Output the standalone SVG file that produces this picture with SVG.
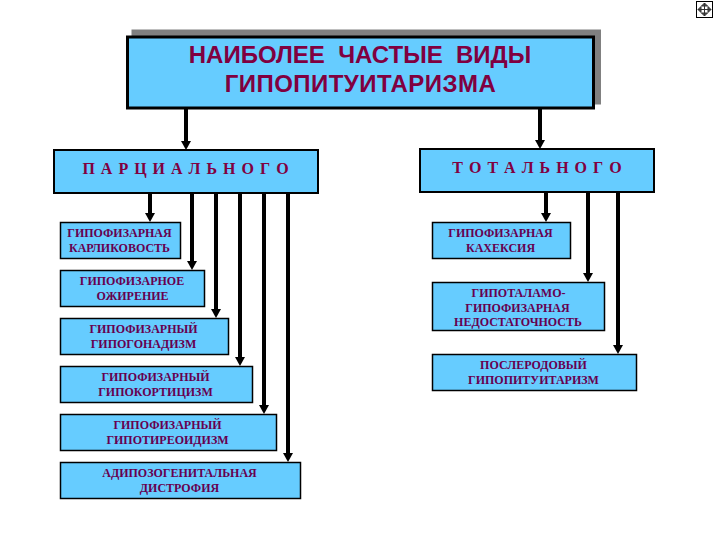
<svg xmlns="http://www.w3.org/2000/svg" width="720" height="540" viewBox="0 0 720 540">
<style>
.box{fill:#66ccff;stroke:#000;stroke-width:1.5}
.mid{fill:#66ccff;stroke:#000;stroke-width:2}
.t{font-family:"Liberation Serif",serif;font-weight:700;font-size:12px;fill:#660050;text-anchor:middle}
.m{font-family:"Liberation Serif",serif;font-weight:700;font-size:16px;letter-spacing:1px;fill:#800040;text-anchor:middle;white-space:pre}
.h{font-family:"Liberation Sans",sans-serif;font-weight:700;font-size:24px;fill:#800040;text-anchor:middle;white-space:pre}
.c{stroke:#000;stroke-width:4;fill:none;marker-end:url(#a)}
</style>
<defs><marker id="a" markerUnits="userSpaceOnUse" markerWidth="9" markerHeight="10" refX="0" refY="5" orient="auto" viewBox="0 0 9 10"><path d="M0 0L9 5L0 10Z" fill="#000"/></marker></defs>
<rect width="720" height="540" fill="#fff"/>
<g id="icon"><rect x="696.500" y="1.500" width="16" height="16" fill="#fff" stroke="#000"/><path d="M704.500 3v13M698 9.500h13M704.500 3l-3 3h6zM704.500 16l-3-3h6zM698 9.500l3-3v6zM711 9.500l-3-3v6z" fill="#555" stroke="#333" stroke-width="1"/></g>
<g id="connectors">
<path class="c" d="M186 108V141"/>
<path class="c" d="M540 108V140"/>
<path class="c" d="M150 193V213"/>
<path class="c" d="M192 193V261"/>
<path class="c" d="M216 193V309"/>
<path class="c" d="M240 193V357"/>
<path class="c" d="M264 193V405"/>
<path class="c" d="M288 193V453"/>
<path class="c" d="M546 192V213"/>
<path class="c" d="M588 192V273"/>
<path class="c" d="M618 192V345"/>
</g>
<g id="title"><rect x="131.500" y="29.500" width="469.500" height="75" fill="#808080"/><rect x="127.500" y="37" width="466" height="71" fill="#66ccff" stroke="#000" stroke-width="3"/>
<text class="h" x="360" y="63">НАИБОЛЕЕ  ЧАСТЫЕ  ВИДЫ</text><text class="h" x="360.500" y="92" style="letter-spacing:.45px">ГИПОПИТУИТАРИЗМА</text></g>
<g id="partial"><rect class="mid" x="54" y="150" width="264" height="43"/><text class="m" x="186" y="174">П А Р Ц И А Л Ь Н О Г О</text></g>
<g id="total"><rect class="mid" x="420" y="149" width="234" height="43"/><text class="m" x="537.500" y="173">Т О Т А Л Ь Н О Г О</text></g>
<g id="n1"><rect class="box" x="60.500" y="222.500" width="120" height="36"/><text class="t" x="119.500" y="237">ГИПОФИЗАРНАЯ</text><text class="t" x="119.500" y="252">КАРЛИКОВОСТЬ</text></g>
<g id="n2"><rect class="box" x="60.500" y="270.500" width="144" height="36"/><text class="t" x="132" y="285">ГИПОФИЗАРНОЕ</text><text class="t" x="132.500" y="300">ОЖИРЕНИЕ</text></g>
<g id="n3"><rect class="box" x="60.500" y="318.500" width="168" height="36"/><text class="t" x="143.500" y="333">ГИПОФИЗАРНЫЙ</text><text class="t" x="143.500" y="348">ГИПОГОНАДИЗМ</text></g>
<g id="n4"><rect class="box" x="60.500" y="366.500" width="192" height="36"/><text class="t" x="155.500" y="381">ГИПОФИЗАРНЫЙ</text><text class="t" x="155.500" y="396">ГИПОКОРТИЦИЗМ</text></g>
<g id="n5"><rect class="box" x="60.500" y="414.500" width="216" height="36"/><text class="t" x="167.500" y="429">ГИПОФИЗАРНЫЙ</text><text class="t" x="167.500" y="444">ГИПОТИРЕОИДИЗМ</text></g>
<g id="n6"><rect class="box" x="60.500" y="462.500" width="240" height="36"/><text class="t" x="179.500" y="477">АДИПОЗОГЕНИТАЛЬНАЯ</text><text class="t" x="179.500" y="492">ДИСТРОФИЯ</text></g>
<g id="r1"><rect class="box" x="432.500" y="222.500" width="138" height="36"/><text class="t" x="500.500" y="237">ГИПОФИЗАРНАЯ</text><text class="t" x="500.500" y="252">КАХЕКСИЯ</text></g>
<g id="r2"><rect class="box" x="432.500" y="282.500" width="172" height="48"/><text class="t" x="518.500" y="297">ГИПОТАЛАМО-</text><text class="t" x="517.500" y="312">ГИПОФИЗАРНАЯ</text><text class="t" x="518" y="326">НЕДОСТАТОЧНОСТЬ</text></g>
<g id="r3"><rect class="box" x="432.500" y="354.500" width="204" height="36"/><text class="t" x="533.500" y="368.500">ПОСЛЕРОДОВЫЙ</text><text class="t" x="533.500" y="384">ГИПОПИТУИТАРИЗМ</text></g>
</svg>
